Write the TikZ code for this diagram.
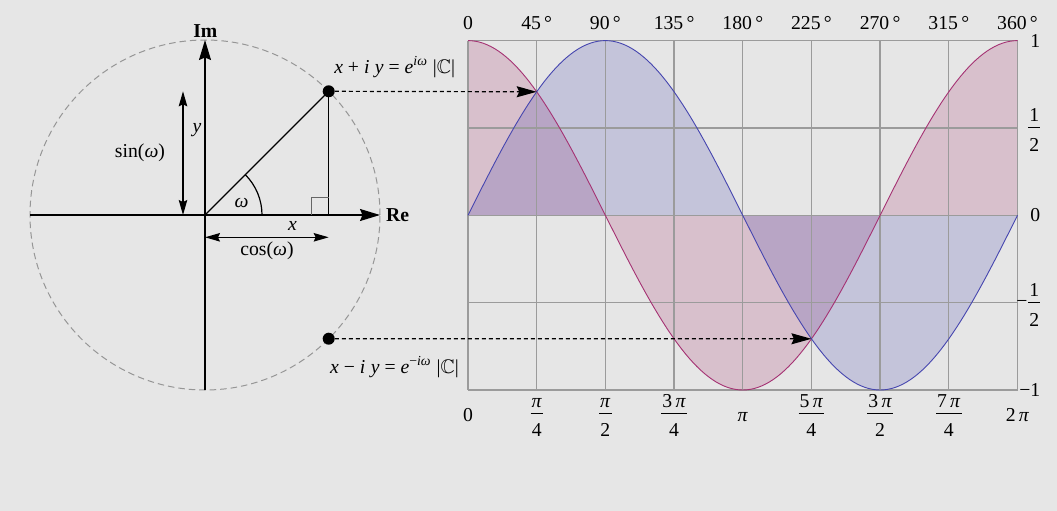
\documentclass[tikz,border=0pt]{standalone}
\usepackage{amssymb}
\usepackage{fontspec}
\setmainfont{Liberation Serif}
\usetikzlibrary{arrows.meta}
\definecolor{bgc}{RGB}{230,230,230}
\definecolor{gridc}{RGB}{155,155,155}
\definecolor{circc}{RGB}{150,150,150}
\definecolor{cosc}{RGB}{165,50,115}
\definecolor{sinc}{RGB}{70,70,175}
\definecolor{cosfill}{RGB}{160,40,100}
\definecolor{sinfill}{RGB}{60,60,170}
\setlength\arrayrulewidth{1pt}
\newcommand\fr[2]{{\renewcommand\arraystretch{0}\begin{tabular}{@{\hspace{1pt}}c@{\hspace{1pt}}}\rule[-5.5pt]{0pt}{29pt}#1\\\hline\rule[-6pt]{0pt}{29pt}#2\end{tabular}}}
\newcommand\vi[1]{\textit{#1}}
\begin{document}
\begin{tikzpicture}[x=1pt,y=-1pt,
  font=\fontsize{19.7}{22}\selectfont,
  every node/.style={inner sep=0pt, text=black},
  axisline/.style={line width=1.3pt, -{Stealth[length=20pt,width=12pt,inset=2.5pt]}},
  dimarrow/.style={line width=1.3pt, {Stealth[length=15pt,width=8.5pt,inset=2pt]}-{Stealth[length=15pt,width=8.5pt,inset=2pt]}},
  projarrow/.style={line width=1.2pt, dash pattern=on 4pt off 3pt, -{Stealth[length=20pt,width=11pt,inset=2.5pt]}},
  dot/.style={circle, fill=black, minimum size=12pt, inner sep=0pt},
  gridline/.style={gridc, line width=1.3pt},
  ticklbl/.style={anchor=base},
  rlbl/.style={anchor=east}
]
\fill[bgc] (0,0) rectangle (1057,511);
\useasboundingbox (0,0) rectangle (1057,511);

% ---------- unit circle part ----------
\coordinate (O) at (205,215);
\draw[circc, line width=1pt, dash pattern=on 6.5pt off 4pt] (O) circle[radius=175pt];
\coordinate (ReStart) at (30,215);
\coordinate (ReEnd) at (380,215);
\coordinate (ImStart) at (205,390);
\coordinate (ImEnd) at (205,40);
\draw[axisline] (ReStart) -- (ReEnd);
\draw[axisline] (ImStart) -- (ImEnd);
\node[anchor=base] (Im) at (205.3,37.3) {\textbf{Im}};
\node[anchor=base west] (Re) at (386,221.7) {\textbf{Re}};

\node[dot] (P) at (328.7,91.3) {};
\node[dot] (Q) at (328.7,338.7) {};
\coordinate (Pf) at (328.7,215);
\draw[line width=1.3pt] (O) -- (P.center);
\draw[line width=1.3pt] (P.center) -- (Pf);
% right angle mark
\draw[gray!80!black, line width=1.2pt] (311.7,215) -- (311.7,197.7) -- (328.7,197.7);
% angle arc
\draw[line width=1.2pt] (262,215) arc[start angle=0, end angle=45, radius=57pt];
\node[anchor=base] (om) at (241.7,207.5) {\vi{ω}};

% sin dimension
\coordinate (S1) at (183,91.3);
\coordinate (S2) at (183,215);
\draw[dimarrow] (S1) -- (S2);
\node[anchor=base] (ylbl) at (197,132) {\vi{y}};
\node[anchor=base] (sinlbl) at (140,157.5) {sin(\vi{ω})};

% cos dimension
\coordinate (C1) at (205,237.3);
\coordinate (C2) at (328.7,237.3);
\draw[dimarrow] (C1) -- (C2);
\node[anchor=base] (xlbl) at (292.5,230) {\vi{x}};
\node[anchor=base] (coslbl) at (267,255) {cos(\vi{ω})};

\node[anchor=base] (plbl) at (394.7,73.3) {\vi{x} + \vi{i}\;\vi{y} = \vi{e}\textsuperscript{\vi{iω}}\;|$\mathbb{C}$|};
\node[anchor=base] (qlbl) at (394.5,373.3) {\vi{x} − \vi{i}\;\vi{y} = \vi{e}\textsuperscript{−\vi{iω}}\;|$\mathbb{C}$|};

% ---------- graph part ----------
\fill[cosfill, opacity=0.2] (468,215.3) -- plot[domain=0:360, samples=145] ({468+\x*1.526389},{215.3-174.7*cos(\x)}) -- (1017.5,215.3) -- cycle;
\fill[sinfill, opacity=0.2] (468,215.3) -- plot[domain=0:360, samples=145] ({468+\x*1.526389},{215.3-174.7*sin(\x)}) -- (1017.5,215.3) -- cycle;

\foreach \i in {0,...,8} {
  \draw[gridline] ({468+\i*68.6875},40.6) -- ({468+\i*68.6875},390);
}
\foreach \yy in {40.6,127.95,215.3,302.65,390} {
  \draw[gridline] (468,\yy) -- (1017.5,\yy);
}
\draw[cosc, line width=0.9pt] plot[domain=0:360, samples=145] ({468+\x*1.526389},{215.3-174.7*cos(\x)});
\draw[sinc, line width=0.9pt] plot[domain=0:360, samples=145] ({468+\x*1.526389},{215.3-174.7*sin(\x)});

\coordinate (T1) at (536.7,91.8);
\coordinate (T2) at (811.4,338.8);
\draw[projarrow] (P) -- (T1);
\draw[projarrow] (Q) -- (T2);

% top labels
\node[ticklbl] (d0) at (468,29.3) {0};
\node[ticklbl] (d45) at (536.7,29.3) {45\,°};
\node[ticklbl] (d90) at (605.4,29.3) {90\,°};
\node[ticklbl] (d135) at (674.1,29.3) {135\,°};
\node[ticklbl] (d180) at (742.8,29.3) {180\,°};
\node[ticklbl] (d225) at (811.4,29.3) {225\,°};
\node[ticklbl] (d270) at (880.1,29.3) {270\,°};
\node[ticklbl] (d315) at (948.8,29.3) {315\,°};
\node[ticklbl] (d360) at (1017.5,29.3) {360\,°};

% bottom labels
\node[ticklbl] (r0) at (468,421.5) {0};
\node (r1) at (536.7,413.3) {\fr{\vi{π}}{4}};
\node (r2) at (605.4,413.3) {\fr{\vi{π}}{2}};
\node (r3) at (674.1,413.3) {\fr{3\,\vi{π}}{4}};
\node[ticklbl] (r4) at (742.8,421.5) {\vi{π}};
\node (r5) at (811.4,413.3) {\fr{5\,\vi{π}}{4}};
\node (r6) at (880.1,413.3) {\fr{3\,\vi{π}}{2}};
\node (r7) at (948.8,413.3) {\fr{7\,\vi{π}}{4}};
\node[ticklbl] (r8) at (1017.5,421.5) {2\,\vi{π}};

% right labels
\node[rlbl] (v1) at (1040.5,40.6) {1};
\node[rlbl] (v2) at (1040.5,127.95) {\fr{1}{2}};
\node[rlbl] (v3) at (1040.5,215.3) {0};
\node[rlbl] (v4) at (1040.5,302.65) {−\kern1pt\fr{1}{2}};
\node[rlbl] (v5) at (1040.5,390) {−1};
\end{tikzpicture}
\end{document}
